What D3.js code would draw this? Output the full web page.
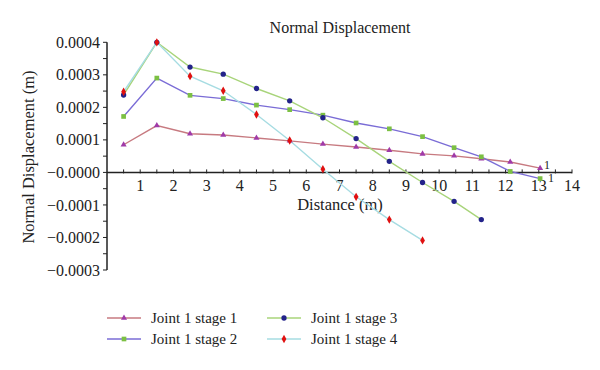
<!DOCTYPE html>
<html>
<head>
<meta charset="utf-8">
<script src="https://cdn.jsdelivr.net/npm/d3@7"></script>
<style>
body { margin: 0; background: #fff; }
text { font-family: "Liberation Serif", "DejaVu Serif", serif; fill: #222; }
</style>
</head>
<body>
<svg id="chart" width="600" height="370"></svg>
<script>
// distances (m)
var xs = [0.5, 1.5, 2.5, 3.5, 4.5, 5.5, 6.5, 7.5, 8.5, 9.5, 10.45, 11.27, 12.14, 13.04];
var stage1 = [0.000085, 0.000144, 0.000119, 0.000115, 0.000106, 0.000097, 0.000087, 0.000078, 0.000068, 0.000057, 0.000051, 0.000042, 0.000032, 0.000013];
var stage2 = [0.000172, 0.000290, 0.000237, 0.000227, 0.000207, 0.000193, 0.000176, 0.000152, 0.000134, 0.000110, 0.000076, 0.000048, 0.000003, -0.000019];
var stage3 = [0.000238, 0.000400, 0.000324, 0.000302, 0.000258, 0.000220, 0.000168, 0.000104, 0.000034, -0.000031, -0.000089, -0.000145];
var stage4 = [0.000248, 0.000400, 0.000296, 0.000251, 0.000178, 0.000098, 0.000010, -0.000075, -0.000145, -0.000209];
var yTicks = [0.0004, 0.0003, 0.0002, 0.0001, 0, -0.0001, -0.0002, -0.0003];
var xTicks = [1, 2, 3, 4, 5, 6, 7, 8, 9, 10, 11, 12, 13, 14];

var series = [
  {name: "Joint 1 stage 1", vals: stage1, line: "#c77a80", mark: "#a03aa8", shape: "tri"},
  {name: "Joint 1 stage 2", vals: stage2, line: "#7a6cd6", mark: "#7cc043", shape: "sq"},
  {name: "Joint 1 stage 3", vals: stage3, line: "#a8d47a", mark: "#23238a", shape: "circ"},
  {name: "Joint 1 stage 4", vals: stage4, line: "#a6dce2", mark: "#e01010", shape: "dia"}
];

var svg = d3.select("#chart");
var x = d3.scaleLinear().domain([0, 14]).range([107, 572]);
var y = d3.scaleLinear().domain([-0.0003, 0.0004]).range([270, 42.3]);

// y axis
var yAxis = svg.append("g").attr("transform", "translate(" + x(0) + ",0)");
yAxis.append("line").attr("y1", y(0.0004)).attr("y2", y(-0.0003)).attr("stroke", "#222").attr("stroke-width", 1.5);
d3.range(-0.0003, 0.00041, 0.00005).forEach(function (v) {
  yAxis.append("line").attr("x1", -4).attr("x2", 0).attr("y1", y(v)).attr("y2", y(v)).attr("stroke", "#222");
});
yTicks.forEach(function (v) {
  yAxis.append("text").attr("x", -7).attr("y", y(v)).attr("dy", "0.35em")
    .attr("text-anchor", "end").attr("font-size", 16)
    .text((v <= 0 ? "\u22120." : "0.") + d3.format("04d")(Math.round(Math.abs(v) * 10000)));
});

// x axis on the zero line
var xAxis = svg.append("g").attr("transform", "translate(0," + y(0) + ")");
xAxis.append("line").attr("x1", x(0)).attr("x2", x(14)).attr("stroke", "#222").attr("stroke-width", 1.5);
d3.range(0.5, 14.01, 0.5).forEach(function (v) {
  xAxis.append("line").attr("x1", x(v)).attr("x2", x(v)).attr("y1", -3).attr("y2", 1).attr("stroke", "#222");
});
xTicks.forEach(function (v) {
  xAxis.append("text").attr("x", x(v)).attr("y", 19).attr("text-anchor", "middle")
    .attr("font-size", 16).text(v);
});

svg.append("text").attr("x", 340).attr("y", 33).attr("text-anchor", "middle").attr("font-size", 16).text("Normal Displacement");
svg.append("text").attr("x", 340).attr("y", 210).attr("text-anchor", "middle").attr("font-size", 16.5).text("Distance (m)");
svg.append("text").attr("transform", "translate(34,157) rotate(-90)").attr("text-anchor", "middle").attr("font-size", 16.5).text("Normal Displacement (m)");

function drawMark(g, shape, color, cx, cy) {
  var sym = {tri: d3.symbolTriangle, sq: d3.symbolSquare, circ: d3.symbolCircle, dia: d3.symbolDiamond}[shape];
  var size = {tri: 16, sq: 22, circ: 22, dia: 20}[shape];
  g.append("path").attr("d", d3.symbol().type(sym).size(size)())
    .attr("transform", "translate(" + cx + "," + cy + ")").attr("fill", color);
}

var line = d3.line().x(function (d) { return x(d[0]); }).y(function (d) { return y(d[1]); });
series.forEach(function (s) {
  var pts = s.vals.map(function (v, i) { return [xs[i], v]; });
  svg.append("path").attr("d", line(pts)).attr("fill", "none").attr("stroke", s.line).attr("stroke-width", 1.4);
});
series.forEach(function (s) {
  var g = svg.append("g");
  s.vals.forEach(function (v, i) { drawMark(g, s.shape, s.mark, x(xs[i]), y(v)); });
});

// end labels
svg.append("text").attr("x", x(13.04) + 4).attr("y", y(stage1[13]) + 1).attr("font-size", 12).text("1");
svg.append("text").attr("x", x(13.04) + 8).attr("y", y(stage2[13]) + 3).attr("font-size", 12).text("1");

// legend
var legend = svg.append("g");
series.forEach(function (s, i) {
  var lx = i < 2 ? 107 : 267;
  var ly = 318 + (i % 2) * 21;
  legend.append("line").attr("x1", lx).attr("x2", lx + 34).attr("y1", ly).attr("y2", ly).attr("stroke", s.line).attr("stroke-width", 1.4);
  drawMark(legend, s.shape, s.mark, lx + 17, ly);
  legend.append("text").attr("x", lx + 44).attr("y", ly).attr("dy", "0.35em").attr("font-size", 15).text(s.name);
});
</script>
</body>
</html>
